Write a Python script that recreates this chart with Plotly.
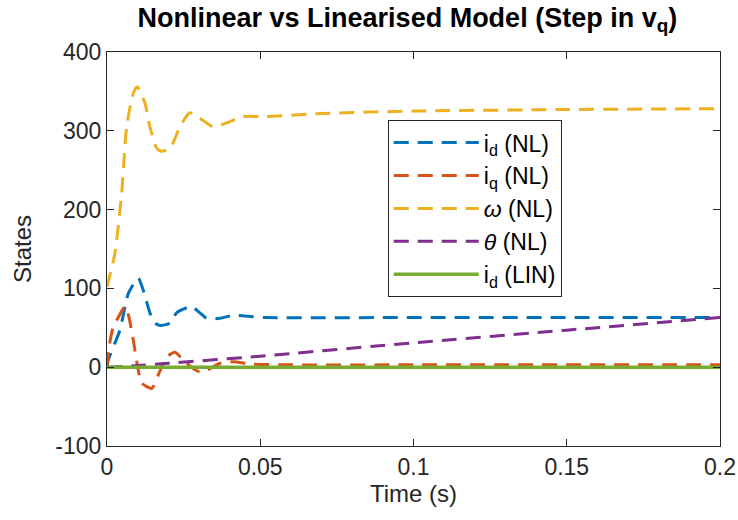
import plotly.graph_objects as go

# time samples (s)
t_w = [0, 0.0026, 0.0048, 0.0064, 0.0086, 0.0099, 0.0124, 0.014, 0.0162, 0.0178, 0.0206, 0.0238,
       0.027, 0.0303, 0.0346, 0.039, 0.0444, 0.052, 0.07, 0.1, 0.15, 0.2]
omega_nl = [102, 145, 221, 305, 348, 356, 335, 305, 278, 274, 278, 305,
            323, 316, 305, 310, 318, 318, 322, 325, 327, 328]

t_d = [0, 0.0004, 0.0042, 0.007, 0.0102, 0.0118, 0.014, 0.0157, 0.0173, 0.0206, 0.0227, 0.0276,
       0.0303, 0.0325, 0.0369, 0.0412, 0.0476, 0.052, 0.1, 0.2]
id_nl = [0, 9, 47, 94, 113, 98, 69, 56, 53, 56, 69, 77,
         69, 62, 62, 66, 64, 63, 63, 63]

t_q = [0, 0.0004, 0.002, 0.0032, 0.0059, 0.007, 0.0086, 0.0102, 0.0113, 0.0146, 0.0167, 0.0195,
       0.0222, 0.0249, 0.0282, 0.0303, 0.0325, 0.0369, 0.0412, 0.0474, 0.06, 0.1, 0.2]
iq_nl = [0, 19, 51, 60, 77, 66, 34, -4, -20, -27, -10, 13,
         19, 9, -2, -6, -4, 5, 7, 4, 3, 3, 3]

t_th = [0, 0.01, 0.02, 0.05, 0.1, 0.15, 0.2]
theta_nl = [0, 2, 5, 14, 31, 47, 63]

t_lin = [0, 0.2]
id_lin = [0, 0]

x_ticks = [0, 0.05, 0.1, 0.15, 0.2]
x_ticktext = ["0", "0.05", "0.1", "0.15", "0.2"]
y_ticks = [-100, 0, 100, 200, 300, 400]
y_ticktext = ["-100", "0", "100", "200", "300", "400"]

C_BLUE, C_ORANGE, C_YELLOW, C_PURPLE, C_GREEN = "#0072BD", "#D95319", "#EDB120", "#7E2F8E", "#77AC30"
DASH = "15px,9px"
FONT = "Liberation Sans, Arial, sans-serif"

fig = go.Figure()
fig.add_trace(go.Scatter(x=t_d, y=id_nl, mode="lines", name="i<sub>d</sub> (NL)",
                         line=dict(color=C_BLUE, width=3, dash=DASH, shape="spline", smoothing=0.6)))
fig.add_trace(go.Scatter(x=t_q, y=iq_nl, mode="lines", name="i<sub>q</sub> (NL)",
                         line=dict(color=C_ORANGE, width=3, dash=DASH, shape="spline", smoothing=0.6)))
fig.add_trace(go.Scatter(x=t_w, y=omega_nl, mode="lines", name="<i>ω</i> (NL)",
                         line=dict(color=C_YELLOW, width=3, dash=DASH, shape="spline", smoothing=0.6)))
fig.add_trace(go.Scatter(x=t_th, y=theta_nl, mode="lines", name="<i>θ</i> (NL)",
                         line=dict(color=C_PURPLE, width=3, dash=DASH, shape="spline", smoothing=0.6)))
fig.add_trace(go.Scatter(x=t_lin, y=id_lin, mode="lines", name="i<sub>d</sub> (LIN)",
                         line=dict(color=C_GREEN, width=3.5)))

axcol = "#262626"
fig.update_layout(
    width=738, height=520,
    margin=dict(l=107, r=18, t=52, b=74),
    paper_bgcolor="white", plot_bgcolor="white",
    font=dict(family=FONT, size=23, color=axcol),
    title=dict(text="<b>Nonlinear vs Linearised Model (Step in v<sub>q</sub>)</b>",
               x=0.552, xanchor="center", yref="container", y=0.985, yanchor="top",
               font=dict(family=FONT, size=27, color="black")),
    showlegend=True,
    legend=dict(x=0.458, y=0.827, xanchor="left", yanchor="top",
                bgcolor="white", bordercolor=axcol, borderwidth=1,
                font=dict(family=FONT, size=23, color="black"),
                tracegroupgap=0, itemwidth=85),
    xaxis=dict(range=[0, 0.2], tickvals=x_ticks, ticktext=x_ticktext, automargin=False,
               tickfont=dict(size=23),
               title=dict(text="Time (s)", font=dict(size=24), standoff=2),
               showline=True, linecolor=axcol, linewidth=1.2, mirror="ticks",
               ticks="inside", ticklen=7, tickcolor=axcol, showgrid=False, zeroline=False),
    yaxis=dict(range=[-100, 400], tickvals=y_ticks, ticktext=y_ticktext, automargin=False,
               tickfont=dict(size=23),
               title=dict(text="States", font=dict(size=24), standoff=16),
               showline=True, linecolor=axcol, linewidth=1.2, mirror="ticks",
               ticks="inside", ticklen=7, tickcolor=axcol, showgrid=False, zeroline=False),
)

fig.write_html("out.html")
